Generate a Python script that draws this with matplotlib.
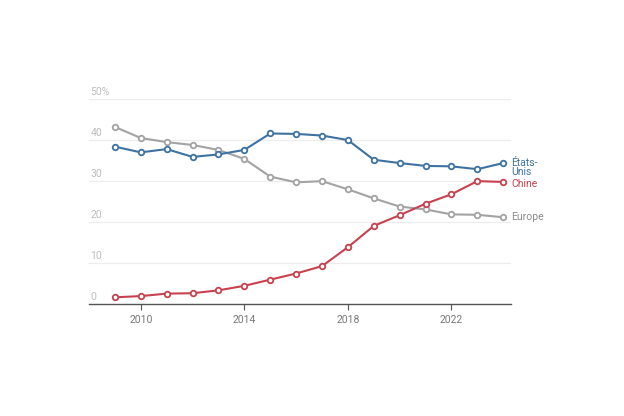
import matplotlib.pyplot as plt

years = list(range(2009, 2025))
etats_unis = [38.4, 37.0, 37.8, 35.9, 36.5, 37.6, 41.6, 41.5, 41.1, 40.0,
              35.2, 34.4, 33.7, 33.6, 32.9, 34.4]
europe = [43.2, 40.5, 39.5, 38.8, 37.6, 35.4, 31.1, 29.7, 30.0, 28.0,
          25.8, 23.8, 23.1, 21.9, 21.8, 21.2]
chine = [1.7, 2.0, 2.6, 2.7, 3.4, 4.5, 6.0, 7.5, 9.3, 13.9,
         19.1, 21.7, 24.5, 26.8, 30.0, 29.8]
yticks = [0, 10, 20, 30, 40, 50]
ytick_labels = ['0', '10', '20', '30', '40', '50%']
xticks = [2010, 2014, 2018, 2022]

blue = '#3d72a2'
red = '#c8414f'
grey = '#a3a3a3'

plt.rcParams['font.family'] = ['Roboto', 'DejaVu Sans']

fig = plt.figure(figsize=(6.24, 4.16), dpi=100)
ax = fig.add_axes([89/624, 1-304.3/416, (511-89)/624, (304.3-99)/416])

for vals, col in [(europe, grey), (chine, red), (etats_unis, blue)]:
    ax.plot(years, vals, color=col, lw=1.5, marker='o', ms=4.0,
            mfc='white', mec=col, mew=1.3, zorder=3)

ax.set_xlim(2008, 2024.3)
ax.set_ylim(0, 50)

for y in yticks[1:]:
    ax.axhline(y, color='#ececec', lw=0.8, zorder=1)
for y, lab in zip(yticks, ytick_labels):
    ax.text(2008.05, y + 0.6, lab, fontsize=7.5, color='#bdbdbd',
            ha='left', va='bottom')

ax.set_yticks([])
ax.set_xticks(xticks)
ax.set_xticklabels([str(x) for x in xticks])
ax.tick_params(axis='x', length=4, width=0.8, color='#555555',
               labelsize=7.5, labelcolor='#777777', pad=4)
for s in ['top', 'right', 'left']:
    ax.spines[s].set_visible(False)
ax.spines['bottom'].set_color('#555555')
ax.spines['bottom'].set_linewidth(1.0)

ax.text(2024.3, etats_unis[-1] - 1.1, 'États-\nUnis', color=blue, fontsize=7.5,
        ha='left', va='center', linespacing=0.95, clip_on=False)
ax.text(2024.3, chine[-1] - 0.5, 'Chine', color=red, fontsize=7.5,
        ha='left', va='center', clip_on=False)
ax.text(2024.3, europe[-1], 'Europe', color='#8a8a8a', fontsize=7.5,
        ha='left', va='center', clip_on=False)

fig.savefig('out.png', dpi=100)
